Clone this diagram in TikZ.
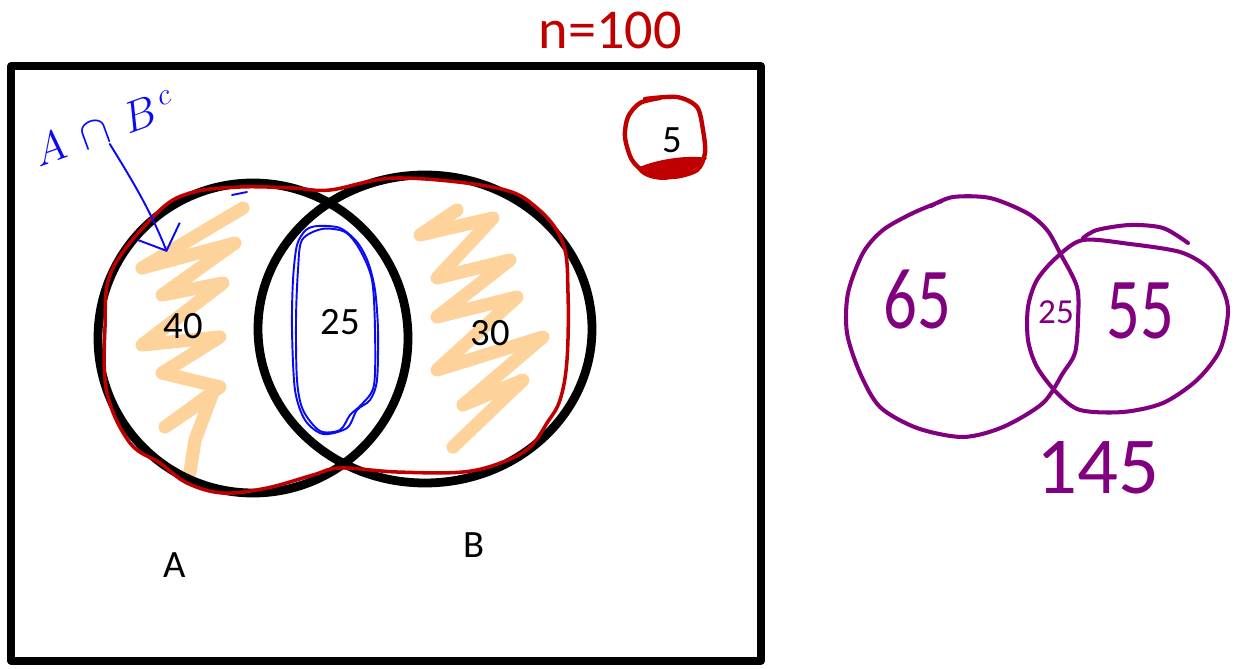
\documentclass[tikz,border=0pt]{standalone}
\usepackage{fontspec}
\setmainfont{Carlito}
\usetikzlibrary{arrows.meta}
\definecolor{inkred}{RGB}{192,0,0}
\definecolor{inkblue}{RGB}{10,10,245}
\definecolor{inkpurple}{RGB}{128,0,128}
\definecolor{marker}{RGB}{254,211,155}

\begin{document}
\begin{tikzpicture}[x=0.02cm,y=-0.02cm,line cap=round,line join=round,
  setline/.style={line width=5pt},
  count/.style={font=\fontsize{22}{26}\selectfont},
  redpen/.style={inkred,line width=2pt},
  bluepen/.style={inkblue,line width=1.1pt},
  hilite/.style={marker,line width=7.5pt},
  purplepen/.style={inkpurple,line width=2.3pt},
  scrawl/.style={inkpurple,font=\fontsize{38}{42}\selectfont}]
 \useasboundingbox (0,0) rectangle (1235,669);
 \draw[hilite] (243,208)--(142,268)--(235,243)--(162,295)--(223,283)--(142,345)
  --(220,337)--(162,373)--(220,387)--(165,427)--(212,395)--(195,440)--(190,472);
 \draw[hilite] (457,210)--(420,235)--(493,218)--(437,278)--(510,260)--(437,317)
  --(517,297)--(437,370)--(543,337)--(463,405)--(523,380)--(453,447);
 \draw[line width=4pt] (11,66) rectangle (761,661);
 \draw[setline] (253,338) circle [radius=155];
 \draw[setline] (425,329) ellipse [x radius=167,y radius=154];
 \draw[redpen] plot[smooth cycle,tension=0.6] coordinates {(112,270) (105,327)
  (107,393) (130,443) (160,463) (187,483) (223,493) (267,488) (313,475) (340,468)
  (397,472) (463,472) (503,462) (530,447) (547,423) (560,400) (567,360) (568,293)
  (563,243) (537,208) (497,188) (397,178) (330,190) (293,188) (240,187) (190,193)
  (157,213)};
 \draw[bluepen] plot[smooth cycle] coordinates {(318,226) (340,228) (357,242)
  (368,262) (375,290) (378,330) (377,380) (370,400) (357,410) (347,428) (323,434)
  (305,420) (295,390) (292,330) (293,280) (297,245) (306,230)};
 \draw[bluepen] plot[smooth cycle] coordinates {(322,229) (345,232) (360,250)
  (372,280) (375,330) (374,385) (362,404) (350,415) (340,430) (320,431) (303,410)
  (297,380) (296,320) (298,270) (302,240)};
 \draw[bluepen] (232,195)--(247,192);
 \node[count] (numA) at (183,326) {40};
 \node[count] (numAB) at (340,322) {25};
 \node[count] (numB) at (490,333) {30};
 \node[count] (numU) at (672,140) {5};
 \node[count] (labA) at (175,565) {A};
 \node[count] (labB) at (474,545) {B};
 \node[inkred,font=\fontsize{32}{36}\selectfont] (total) at (610,30) {n=100};
 \draw[redpen,line width=2.5pt] plot[smooth] coordinates {(645,99) (677,97)
  (697,107) (703,130) (705,153) (697,170) (673,177) (647,173) (632,160) (625,137)
  (628,117) (640,103) (660,98)};
 \fill[inkred] (637,168) .. controls (660,158) and (690,155) .. (707,158)
  .. controls (700,168) and (680,178) .. (665,180)
  .. controls (650,180) and (640,175) .. (637,168) -- cycle;
 \node[inkblue,rotate=20,inner sep=1pt,font=\fontsize{23}{27}\selectfont]
  (labAnotB) at (104,128) {$A\,\cap\,B^{\,c}$};
 \coordinate (tip) at (167,252);
 \draw[bluepen,-{Straight Barb[length=12pt,width=26pt]}] (labAnotB.south)
  .. controls (135,185) and (150,210) .. (tip);
 \draw[purplepen] plot[smooth,tension=0.5] coordinates {(931,206) (953,197)
  (990,198) (1027,213) (1047,230) (1060,253) (1077,287) (1078,320) (1075,353)
  (1063,373) (1043,403) (1003,427) (963,437) (917,428) (880,407) (860,373)
  (847,333) (848,293) (863,253) (883,230) (913,213) (942,201)};
 \draw[purplepen] plot[smooth cycle,tension=0.5] coordinates {(1083,240)
  (1130,244) (1180,252) (1207,267) (1223,290) (1228,313) (1220,350) (1197,380)
  (1163,403) (1123,412) (1080,410) (1057,393) (1037,367) (1028,340) (1028,307)
  (1037,280) (1057,257)};
 \draw[purplepen] plot[smooth] coordinates {(1083,238) (1097,230) (1130,225)
  (1163,228) (1188,243)};
 \node[scrawl] (leftonly) at (917,300) {\scalebox{1}[1.3]{65}};
 \node[scrawl] (rightonly) at (1140,311) {\scalebox{1}[1.3]{55}};
 \node[inkpurple,font=\fontsize{20}{24}\selectfont] (both) at (1056,312) {25};
 \node[inkpurple,font=\fontsize{46}{50}\selectfont] (sum) at (1098,468) {145};
\end{tikzpicture}
\end{document}
